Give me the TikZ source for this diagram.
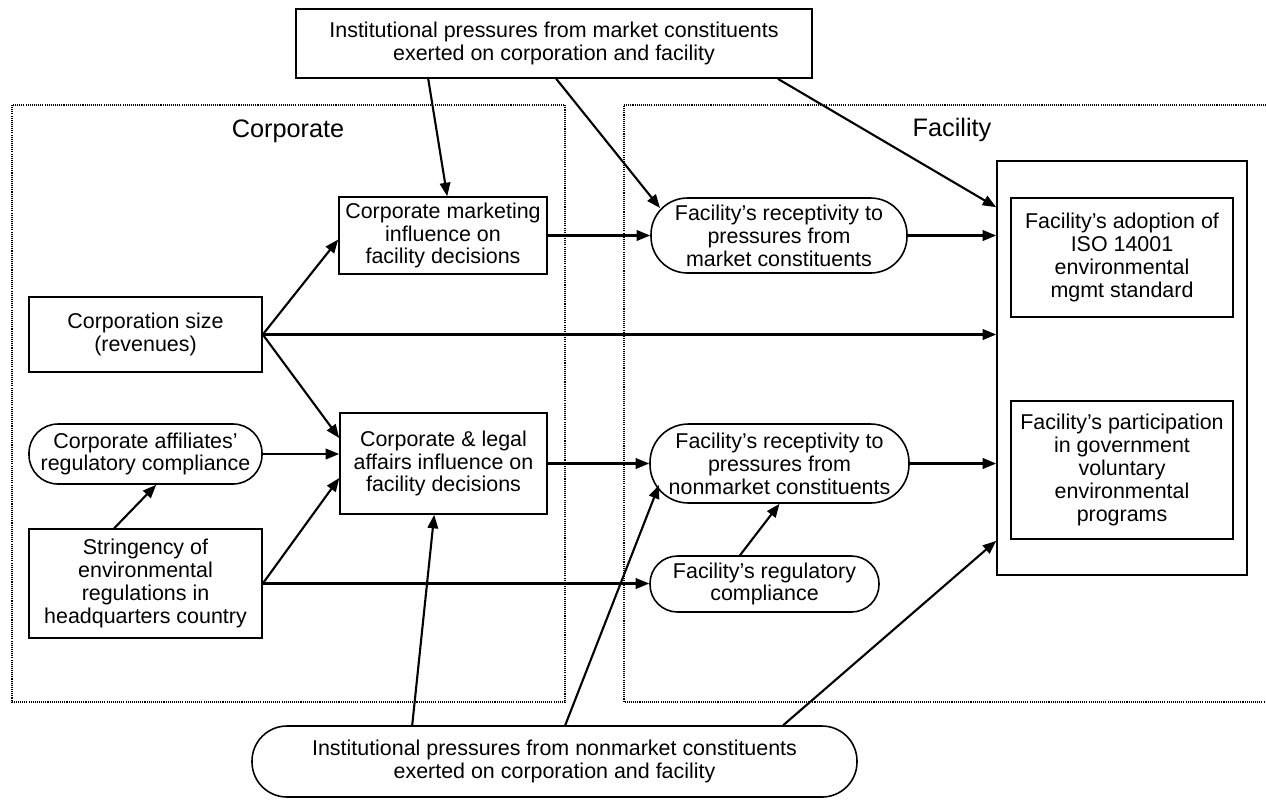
\documentclass[tikz,border=0pt]{standalone}
\usepackage{fontspec}
\setmainfont{Liberation Sans}
\usetikzlibrary{arrows.meta,calc}
\newcommand\dgfont{\fontsize{12.2}{13}\selectfont}
\newcommand\lblfont{\fontsize{14.4}{16}\selectfont}
\begin{document}
\begin{tikzpicture}[x=0.02cm,y=-0.02cm,
  box/.style={draw, line width=0.9pt, align=center, inner sep=0pt, font=\dgfont},
  rbox/.style={box, rounded corners=#1},
  frame/.style={line width=0.6pt, dash pattern=on 0.6pt off 0.6pt},
  arr/.style={-{Triangle[length=0.27cm,width=0.21cm]}, line width=1.2pt},
  lbl/.style={font=\lblfont, inner sep=0pt}]
\path[use as bounding box] (0,0) rectangle (1266,799);
% frames
\draw[frame] (12,105) rectangle (565,702);
\draw[frame] (1266,105) -- (624,105) -- (624,702) -- (1266,702);
\node[lbl] (lcorp) at (288,131) {Corporate};
\node[lbl] (lfac) at (952,130) {Facility};
% nodes
\node[box, minimum width=516*0.02cm, minimum height=69*0.02cm] (top) at (554,43.5)
  {Institutional pressures from market constituents\\exerted on corporation and facility};
\node[rbox=0.70cm, minimum width=605*0.02cm, minimum height=71*0.02cm] (bottom) at (554.5,761.5)
  {Institutional pressures from nonmarket constituents\\exerted on corporation and facility};
\node[box, minimum width=208*0.02cm, minimum height=77*0.02cm] (mkt) at (443,235.5)
  {Corporate marketing\\influence on\\facility decisions};
\node[box, minimum width=233*0.02cm, minimum height=75*0.02cm] (size) at (145.5,334.5)
  {Corporation size\\(revenues)};
\node[box, minimum width=207*0.02cm, minimum height=101*0.02cm] (legal) at (443.5,463.5)
  {Corporate \& legal\\affairs influence on\\facility decisions};
\node[rbox=0.58cm, minimum width=233*0.02cm, minimum height=60*0.02cm] (affil) at (145.5,454)
  {Corporate affiliates’\\regulatory compliance};
\node[box, minimum width=233*0.02cm, minimum height=109*0.02cm] (string) at (145.5,583.5)
  {Stringency of\\environmental\\regulations in\\headquarters country};
\node[rbox=0.73cm, minimum width=256*0.02cm, minimum height=75*0.02cm] (fmkt) at (779,235.5)
  {Facility’s receptivity to\\pressures from\\market constituents};
\node[rbox=0.77cm, minimum width=259*0.02cm, minimum height=79*0.02cm] (fnon) at (779.5,463.5)
  {Facility’s receptivity to\\pressures from\\nonmarket constituents};
\node[rbox=0.55cm, minimum width=229*0.02cm, minimum height=56*0.02cm] (freg) at (764.5,584)
  {Facility’s regulatory\\compliance};
\node[box, minimum width=250*0.02cm, minimum height=414*0.02cm] (big) at (1122,368) {};
\node[box, minimum width=222*0.02cm, minimum height=119*0.02cm] (iso) at (1122,257.5)
  {Facility’s adoption of\\ISO 14001\\environmental\\mgmt standard};
\node[box, minimum width=222*0.02cm, minimum height=138*0.02cm] (part) at (1122,470)
  {Facility’s participation\\in government\\voluntary\\environmental\\programs};
% connectors
\draw[arr] ($(top.south west)+(133,0)$) -- ($(mkt.north west)+(109,0)$);
\draw[arr] ($(top.south west)+(261,0)$) -- ($(fmkt.center)+(-119,-27.5)$);
\draw[arr] ($(top.south east)+(-35,0)$) -- ($(big.north west)+(0,47)$);
\draw[arr] (mkt.east) -- (fmkt.west);
\draw[arr] (fmkt.east) -- (fmkt.east -| big.west);
\draw[arr] (size.east) -- ($(mkt.west)+(0,4)$);
\draw[arr] (size.east) -- ($(legal.west)+(0,-25.5)$);
\draw[arr] (size.east) -- (size.east -| big.west);
\draw[arr] (affil.east) -- (legal.west |- affil.east);
\draw[arr] ($(string.north west)+(86,0)$) -- ($(affil.south west)+(128,0)$);
\draw[arr] (string.east) -- ($(legal.west)+(0,14.5)$);
\draw[arr] (string.east) -- (freg.west |- string.east);
\draw[arr] ($(freg.north)+(-24.5,0)$) -- (fnon.south);
\draw[arr] (legal.east) -- (fnon.west);
\draw[arr] (fnon.east) -- (fnon.east -| big.west);
\draw[arr] ($(bottom.north west)+(161,0)$) -- ($(legal.south west)+(95,0)$);
\draw[arr] ($(bottom.north west)+(314,0)$) -- ($(fnon.center)+(-120.5,21.5)$);
\draw[arr] ($(bottom.north west)+(532,0)$) -- ($(big.south west)+(0,-35)$);
\end{tikzpicture}
\end{document}
